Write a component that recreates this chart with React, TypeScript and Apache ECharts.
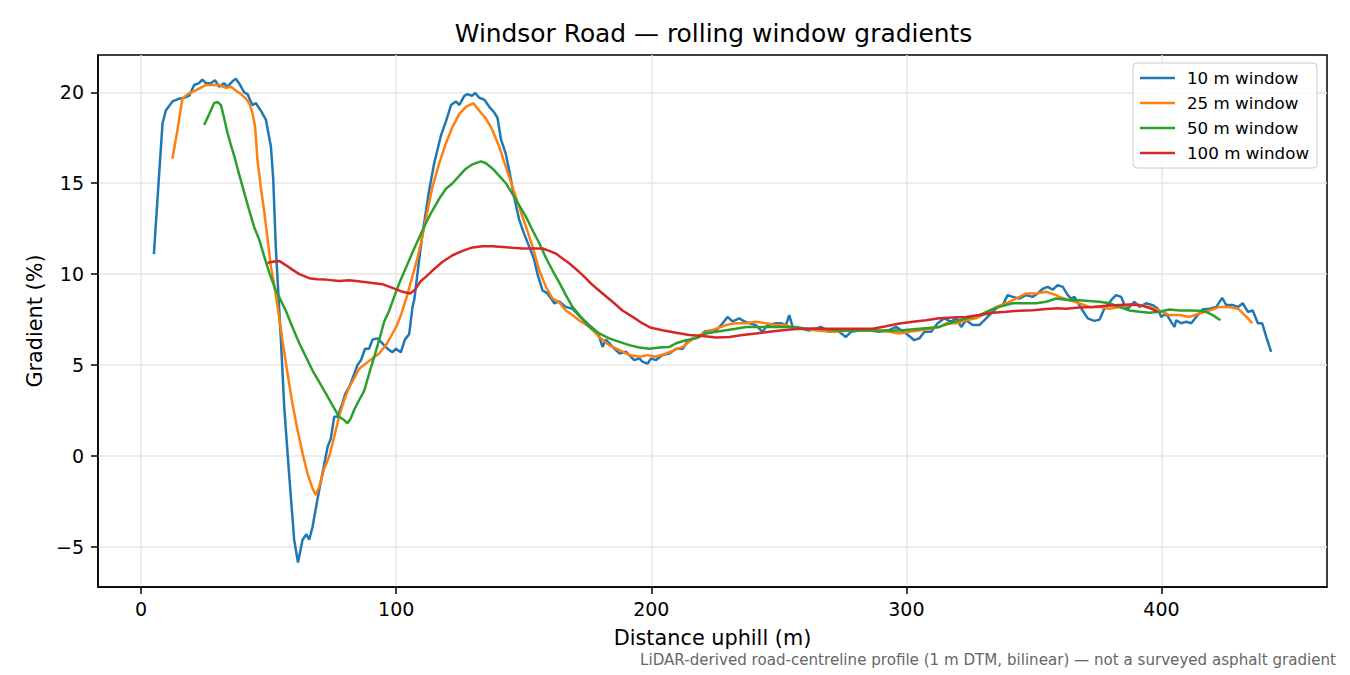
import { useEffect, useRef } from 'react'
import * as echarts from 'echarts'

const FONT = 'DejaVu Sans'
const COLORS = ['#1f77b4', '#ff7f0e', '#2ca02c', '#d62728']
const NAMES = ['10 m window', '25 m window', '50 m window', '100 m window']

const xTicks = [0, 100, 200, 300, 400]
const yTicks = [-5, 0, 5, 10, 15, 20]

// 10 m window
const dist10 = [
  5, 8.4, 9.7, 12.3, 14.9, 16.9, 18.8, 20.8, 22.7, 24, 25.4, 27.3, 29, 30.6, 32.5, 33.8, 35.8, 37.1, 38.4, 40.4,
  41.7, 43.6, 45, 46.9, 48.9, 50.9, 51.8, 52.8, 54.8, 56.1, 58, 60, 61.5, 63.3, 64.8, 65.9, 67.2, 69.1, 71.1, 73.1,
  74.4, 75.7, 77, 78.9, 80, 81.6, 83.5, 84.8, 86.2, 87.8, 89.4, 90.7, 92.7, 94.6, 96.6, 98.5, 99.9, 101.8, 103.4, 105.1,
  106.4, 107.1, 109, 110.3, 112.9, 114.9, 117.5, 119.5, 121.5, 123.4, 124.7, 126.7, 128, 129.7, 131, 132.5, 134.5, 136.5, 138.4, 139.7,
  141.1, 143, 144.3, 146.3, 148.2, 150.2, 152.2, 154.1, 155.4, 157.4, 159.3, 162, 163.9, 166.5, 169.1, 171.8, 175.7, 179, 180.9, 182.2,
  184.8, 187.5, 190.1, 193.3, 195.3, 196.6, 198.6, 199.9, 201.8, 204.4, 207.1, 209.7, 212.3, 214.2, 216.2, 218.8, 220.8, 223.4, 225.4, 228,
  229.9, 231.9, 234.5, 236.5, 238.4, 241, 243.6, 245.6, 248.9, 250.8, 252.8, 254.1, 255.4, 259.3, 262, 266.5, 269.8, 273, 276.3, 278.3,
  281.6, 285.5, 289.4, 292.7, 296, 299.9, 303.1, 305.1, 307.1, 309.7, 312.3, 314.9, 317.5, 319.5, 321.5, 323.4, 326, 328.6, 330.6, 333.2,
  335.8, 337.8, 339.7, 341.7, 344.3, 346.9, 349.5, 351.5, 353.5, 355.4, 357.4, 359.3, 361.3, 363.3, 364.6, 365.9, 367.8, 369.1, 371.1, 373.7,
  375.7, 377.6, 380.3, 382.2, 384.2, 385.5, 386.8, 389.4, 391.4, 394, 396.6, 398.6, 399.9, 401.8, 403.8, 405.1, 405.8, 407.7, 409.7, 411.7,
  413.6, 416.2, 418.8, 421.5, 423.8, 425.4, 428, 430, 431.9, 433.9, 435.8, 437.8, 439.5, 441.1, 443,
]
const grad10 = [
  11.1, 18.3, 19.0, 19.5, 19.65, 19.7, 19.8, 20.4, 20.5, 20.7, 20.5, 20.5, 20.66, 20.3, 20.5, 20.3, 20.6, 20.75, 20.5, 20.0,
  19.9, 19.3, 19.4, 19.0, 18.5, 17.0, 15.2, 11.5, 6.4, 2.7, -0.95, -4.6, -5.85, -4.6, -4.3, -4.6, -3.9, -2.4, -0.95, 0.5,
  0.97, 2.16, 2.16, 2.9, 3.4, 3.8, 4.5, 5.0, 5.27, 5.9, 5.9, 6.4, 6.47, 6.2, 5.9, 5.7, 5.9, 5.7, 6.4, 6.7,
  8.2, 8.6, 10.8, 12.2, 14.6, 16.1, 17.6, 18.4, 19.3, 19.5, 19.3, 19.8, 19.9, 19.8, 19.96, 19.7, 19.6, 19.2, 18.9, 18.6,
  17.4, 16.6, 15.7, 14.2, 13.0, 12.2, 11.5, 10.8, 10.0, 9.1, 8.94, 8.4, 8.5, 8.2, 8.1, 7.7, 7.2, 6.8, 6.0, 6.4,
  6.0, 5.64, 5.73, 5.27, 5.37, 5.18, 5.09, 5.37, 5.27, 5.55, 5.64, 5.9, 5.9, 6.3, 6.47, 6.55, 6.83, 6.9, 6.9, 7.3,
  7.65, 7.4, 7.57, 7.4, 7.3, 7.2, 6.83, 7.2, 7.3, 7.3, 7.2, 7.75, 7.1, 7.0, 6.9, 7.1, 6.83, 6.9, 6.55, 6.83,
  6.9, 6.9, 6.83, 6.9, 7.1, 6.74, 6.37, 6.47, 6.83, 6.83, 7.3, 7.57, 7.38, 7.57, 7.1, 7.47, 7.2, 7.2, 7.47, 7.84,
  8.2, 8.3, 8.85, 8.75, 8.66, 8.85, 8.75, 8.94, 9.2, 9.3, 9.15, 9.4, 9.3, 8.85, 8.66, 8.75, 8.3, 8.0, 7.57, 7.43,
  7.5, 8.1, 8.57, 8.85, 8.75, 8.3, 8.1, 8.48, 8.2, 8.4, 8.3, 8.1, 7.65, 7.84, 7.38, 7.1, 7.47, 7.3, 7.38, 7.3,
  7.65, 8.06, 8.1, 8.2, 8.7, 8.3, 8.3, 8.2, 8.4, 7.93, 8.0, 7.3, 7.3, 6.55, 5.73,
]

// 25 m window
const dist25 = [
  12.3, 14.2, 16.2, 18.2, 20.8, 22.7, 25.4, 28, 30.6, 33.2, 35.2, 37.1, 39.1, 41.1, 42.4, 43.6, 44.7, 45.6, 46.9, 48.2,
  49.5, 50.9, 52.2, 54.1, 55.4, 57.4, 59.3, 61.3, 63.3, 65.2, 67.2, 68.5, 69.8, 71.8, 73.7, 75.7, 77.6, 79.6, 81.6, 83.5,
  85.5, 88.1, 90.7, 93.3, 96, 98, 100, 102, 104, 106, 108, 110, 111.6, 114.2, 116.9, 119.5, 122.1, 124.7, 127.3, 130.3,
  132.5, 135.2, 137.8, 140.4, 143, 145.6, 148.2, 150.9, 153.5, 156.1, 158.7, 161.3, 163.9, 166.5, 169.1, 171.8, 175.7, 179.6, 183.5, 187.5,
  191.4, 195.3, 198.6, 201.8, 205.8, 209, 212.3, 215.6, 218.8, 222.1, 225.4, 229.3, 233.2, 237.1, 241, 245, 248.9, 252.8, 256.7, 260.7,
  264.6, 271.1, 278.9, 286.8, 293.3, 297.3, 301.2, 305.1, 309, 312.9, 315.6, 319.5, 323.4, 327.3, 331.3, 335.2, 339.1, 343, 346.9, 350.9,
  354.8, 358.7, 360, 364, 367.8, 371.8, 375.7, 379.6, 383.5, 387.5, 391.4, 395.3, 399.2, 403.1, 407.1, 411, 414.9, 418.8, 422.7, 426.7,
  430, 431.9, 433.9, 435.6,
]
const grad25 = [
  16.35, 17.9, 19.65, 19.9, 20.07, 20.2, 20.4, 20.4, 20.4, 20.25, 20.3, 20.1, 19.9, 19.65, 19.4, 18.9, 18.1, 16.3, 14.8, 13.5,
  12.05, 10.4, 9.4, 7.65, 6.37, 4.54, 2.9, 1.43, 0.15, -0.95, -1.78, -2.14, -1.68, -0.68, -0.04, 1.06, 2.16, 3.08, 3.8, 4.27,
  4.8, 5.09, 5.37, 5.64, 6.1, 6.6, 7.1, 7.8, 8.7, 9.7, 10.7, 11.9, 13.0, 14.8, 16.1, 17.2, 18.1, 18.8, 19.2, 19.4,
  19.0, 18.55, 17.9, 17.0, 15.9, 14.8, 13.7, 12.6, 11.5, 10.2, 9.3, 8.66, 8.45, 8.0, 7.75, 7.45, 7.1, 6.55, 6.1, 5.82,
  5.55, 5.46, 5.55, 5.46, 5.64, 5.82, 6.0, 6.37, 6.65, 6.83, 7.0, 7.2, 7.3, 7.3, 7.38, 7.3, 7.2, 7.2, 7.0, 7.0,
  6.9, 6.83, 6.9, 6.9, 6.83, 6.74, 6.83, 6.9, 7.0, 7.1, 7.3, 7.3, 7.47, 7.57, 7.84, 8.2, 8.4, 8.66, 8.94, 8.94,
  9.03, 8.85, 8.75, 8.57, 8.4, 8.2, 8.2, 8.1, 8.2, 8.3, 8.3, 8.2, 8.0, 7.75, 7.75, 7.65, 7.84, 8.0, 8.2, 8.2,
  8.1, 7.84, 7.57, 7.3,
]

// 50 m window
const dist50 = [
  24.7, 26.7, 28.6, 29.9, 31.3, 32.5, 33.8, 35.2, 36.5, 38.4, 40.4, 42.4, 44.3, 46.3, 48.2, 50.2, 52.8, 54.1, 56.7, 59.3,
  62, 64.6, 67.2, 69.8, 72.4, 75, 77.6, 79.6, 80.9, 82.2, 83.5, 85.5, 87.5, 89.4, 91.4, 93.3, 95.3, 97.3, 99.2, 101.2,
  103.5, 106.4, 109, 111.6, 114.2, 116.9, 119.5, 122.1, 124.7, 127.3, 129.9, 133.2, 135.2, 137.8, 140.4, 143, 145.6, 148.2, 150.9, 153.5,
  156.1, 158.7, 161.3, 163.9, 166.5, 169.1, 171.8, 175.7, 179.6, 183.5, 187.5, 191.4, 195.3, 199.2, 203.1, 207.1, 209.7, 213.6, 217.5, 221.5,
  225.4, 229.3, 233.2, 237.1, 241, 245, 248.9, 252.8, 256.7, 260.7, 265.9, 273.7, 281.6, 289.4, 297.3, 305.1, 312.9, 320.8, 328.6, 332.5,
  336.5, 341.7, 346.9, 350.9, 354.8, 358.7, 364, 367.8, 371.8, 375.7, 379.6, 383.5, 387.5, 391.4, 395.3, 399.2, 403.1, 407.1, 411, 414.9,
  417.5, 420.1, 423.1,
]
const grad50 = [
  18.2, 18.8, 19.4, 19.47, 19.3, 18.6, 17.8, 17.1, 16.5, 15.5, 14.5, 13.5, 12.6, 11.9, 11.0, 10.1, 9.1, 8.75, 8.0, 7.1,
  6.2, 5.46, 4.7, 4.08, 3.44, 2.8, 2.16, 1.98, 1.8, 2.07, 2.53, 3.08, 3.6, 4.54, 5.46, 6.37, 7.4, 8.0, 8.75, 9.5,
  10.25, 11.2, 12.0, 12.8, 13.5, 14.16, 14.7, 15.0, 15.4, 15.8, 16.04, 16.2, 16.1, 15.8, 15.4, 15.0, 14.4, 13.8, 13.15, 12.4,
  11.7, 10.9, 10.2, 9.55, 8.85, 8.2, 7.75, 7.1, 6.74, 6.47, 6.28, 6.1, 5.97, 5.9, 5.97, 6.0, 6.2, 6.37, 6.47, 6.74,
  6.83, 6.92, 7.0, 7.1, 7.1, 7.1, 7.1, 7.1, 7.1, 7.0, 7.0, 6.9, 6.9, 6.9, 6.9, 7.0, 7.1, 7.47, 7.75, 8.0,
  8.2, 8.4, 8.4, 8.4, 8.48, 8.66, 8.57, 8.57, 8.53, 8.48, 8.4, 8.2, 8.0, 7.93, 7.88, 7.93, 8.06, 8.0, 8.0, 7.99,
  7.93, 7.75, 7.47,
]

// 100 m window
const dist100 = [
  49.5, 51.5, 54.1, 56.7, 59.3, 62, 65.9, 69, 72.4, 77.6, 81.6, 86.8, 90.7, 94.6, 98.5, 102.5, 105.5, 107.4, 109.5, 111.6,
  114.2, 118.2, 122.1, 126, 129.9, 133.8, 137.8, 141.7, 145.6, 149.5, 153.5, 157.4, 160, 162.6, 165.2, 167.8, 171.1, 173.1, 177, 180.9,
  184.8, 188.7, 192.7, 196.6, 199.9, 204.4, 209.7, 214.9, 220.1, 225.4, 230.6, 235.8, 241, 246.3, 251.5, 256.7, 262, 273.7, 281.6, 286.8,
  292, 297.3, 302.5, 307.7, 312.9, 318.2, 323.4, 328.6, 333.9, 339.1, 344.3, 349.5, 354.8, 359.3, 362.6, 367.8, 373.1, 378.3, 383.5, 387.5,
  391.4, 394, 396.6, 398.6,
]
const grad100 = [
  10.62, 10.68, 10.73, 10.5, 10.25, 10.0, 9.78, 9.72, 9.7, 9.63, 9.67, 9.58, 9.52, 9.45, 9.25, 9.03, 8.94, 9.15, 9.6, 9.85,
  10.2, 10.68, 11.04, 11.28, 11.47, 11.54, 11.54, 11.5, 11.45, 11.41, 11.41, 11.41, 11.28, 11.13, 10.86, 10.6, 10.2, 9.95, 9.4, 8.94,
  8.48, 8.0, 7.65, 7.29, 7.05, 6.92, 6.78, 6.65, 6.6, 6.52, 6.55, 6.65, 6.74, 6.83, 6.92, 6.98, 7.0, 7.0, 7.0, 7.0,
  7.14, 7.29, 7.38, 7.47, 7.57, 7.62, 7.65, 7.75, 7.88, 7.93, 7.99, 8.02, 8.08, 8.12, 8.1, 8.17, 8.2, 8.26, 8.3, 8.33,
  8.3, 8.2, 8.06, 7.93,
]

const seriesDist = [dist10, dist25, dist50, dist100]
const seriesGrad = [grad10, grad25, grad50, grad100]

const minusFmt = (v: number) => (v < 0 ? '\u2212' + Math.abs(v) : String(v))

export default function App() {
  const chartRef = useRef<HTMLDivElement>(null)

  useEffect(() => {
    document.body.style.margin = '0'
    if (!chartRef.current) return
    const chart = echarts.init(chartRef.current, null, { renderer: 'svg' })

    const option: any = {
      animation: false,
      backgroundColor: '#ffffff',
      textStyle: { fontFamily: FONT },
      title: {
        text: 'Windsor Road \u2014 rolling window gradients',
        left: 708.5,
        textAlign: 'center',
        top: 14,
        textStyle: { fontFamily: FONT, fontSize: 24.9, fontWeight: 'normal', color: '#000', lineHeight: 28 },
      },
      grid: {
        left: 98,
        right: 23,
        top: 55,
        bottom: 88,
        show: true,
        borderColor: '#000',
        borderWidth: 1.5,
        backgroundColor: 'transparent',
      },
      legend: {
        data: NAMES,
        orient: 'vertical',
        left: 1133,
        top: 63,
        icon: 'rect',
        itemWidth: 35,
        itemHeight: 2.6,
        itemGap: 5,
        padding: [5, 8, 5, 7],
        borderColor: '#cccccc',
        borderWidth: 1,
        borderRadius: 4,
        backgroundColor: 'rgba(255,255,255,0.8)',
        textStyle: { fontFamily: FONT, fontSize: 16.7, color: '#000', lineHeight: 20, padding: [0, 0, 0, 7] },
      },
      xAxis: {
        type: 'value',
        min: -16.9,
        max: 464.9,
        name: 'Distance uphill (m)',
        nameLocation: 'middle',
        nameGap: 40,
        nameTextStyle: { fontFamily: FONT, fontSize: 20.8, color: '#000' },
        axisLine: { show: true, onZero: false, lineStyle: { color: '#000', width: 1.5 } },
        axisTick: { show: true, length: 7, customValues: xTicks, lineStyle: { color: '#000', width: 1.5 } },
        axisLabel: { customValues: xTicks, fontFamily: FONT, fontSize: 19, color: '#000', margin: 12, formatter: minusFmt },
        splitLine: { show: true, lineStyle: { color: '#e6e6e6', width: 1.5 } },
      },
      yAxis: {
        type: 'value',
        min: -7.2,
        max: 22.05,
        name: 'Gradient (%)',
        nameLocation: 'middle',
        nameRotate: 90,
        nameGap: 52,
        nameTextStyle: { fontFamily: FONT, fontSize: 20.8, color: '#000' },
        axisLine: { show: true, onZero: false, lineStyle: { color: '#000', width: 1.5 } },
        axisTick: { show: true, length: 7, customValues: yTicks, lineStyle: { color: '#000', width: 1.5 } },
        axisLabel: { customValues: yTicks, fontFamily: FONT, fontSize: 19, color: '#000', margin: 14, formatter: minusFmt },
        splitLine: { show: true, lineStyle: { color: '#e6e6e6', width: 1.5 } },
      },
      graphic: [
        {
          type: 'text',
          right: 14,
          top: 652,
          style: {
            text: 'LiDAR-derived road-centreline profile (1 m DTM, bilinear) \u2014 not a surveyed asphalt gradient',
            fontFamily: FONT,
            fontSize: 15.1,
            fill: '#666666',
          },
        },
      ],
      series: NAMES.map((name, i) => ({
        name,
        type: 'line',
        data: seriesDist[i].map((d, j) => [d, seriesGrad[i][j]]),
        symbol: 'none',
        showSymbol: false,
        lineStyle: { color: COLORS[i], width: 2.5 },
        itemStyle: { color: COLORS[i] },
        z: 2 + i,
      })),
    }

    chart.setOption(option)
    return () => {
      chart.dispose()
    }
  }, [])

  return <div ref={chartRef} style={{ width: 1350, height: 675 }} />
}
